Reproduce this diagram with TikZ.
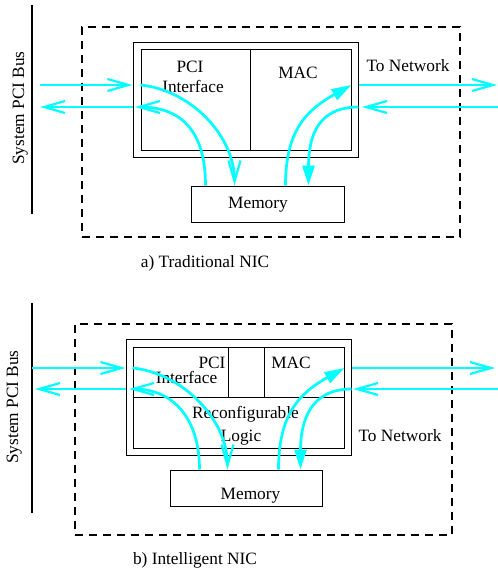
\documentclass[tikz,border=0pt]{standalone}
\usepackage{fontspec}
\setmainfont{Liberation Serif}
\usetikzlibrary{arrows.meta}
\definecolor{flowcyan}{RGB}{0,255,255}

\begin{document}
\begin{tikzpicture}[x=1pt,y=-1pt,
  every node/.style={inner sep=0pt,font=\fontsize{17.3}{20}\selectfont},
  box/.style={draw,line width=1pt,rectangle},
  nic/.style={draw,line width=1.2pt,dash pattern=on 8pt off 6pt},
  bus/.style={line width=2.8pt},
  flow/.style={flowcyan,line width=2.7pt},
  barb/.style={-{Straight Barb[length=21pt,width=12pt,line width=2.2pt]}},
  tri/.style={-{Triangle[length=20pt,width=12pt]}},
  lbl/.style={anchor=base}]
\useasboundingbox (0,0) rectangle (498,571);

% a) traditional card
\coordinate (busAtop) at (32,5);
\coordinate (busAbot) at (32,214);
\draw[bus] (busAtop) -- (busAbot);
\node[lbl,rotate=90] (busAlbl) at (24,108) {System PCI Bus};
\node[nic,minimum width=378pt,minimum height=210pt] (nicA) at (271,132) {};
\node[box,minimum width=225pt,minimum height=115pt] (cardA) at (245.5,99.5) {};
\node[box,minimum width=109pt,minimum height=101pt] (pciA) at (195.5,99.5) {};
\node[box,minimum width=101pt,minimum height=101pt] (macA) at (300.5,99.5) {};
\node[box,minimum width=153pt,minimum height=36pt] (memA) at (267.5,204) {};
\node[lbl] (pciAt) at (190,72) {PCI};
\node[lbl] (ifAt) at (193,92) {Interface};
\node[lbl] (macAt) at (298,78) {MAC};
\node[lbl] (memAt) at (258,208) {Memory};
\node[lbl] (netAt) at (408,71) {To Network};
\node[lbl] (capA) at (205,267) {a) Traditional NIC};

\coordinate (busAin) at (40,85);
\coordinate (busAout) at (40,107);
\coordinate (netAout) at (497,85);
\coordinate (netAin) at (498,107);
\draw[flow,barb] (busAin) -- (busAin -| cardA.west);
\draw[flow,barb] (busAin -| pciA.west) .. controls +(50,5) and +(0,-50) .. ([xshift=44pt]memA.north west);
\draw[flow,barb] ([xshift=15pt]memA.north west) .. controls +(0,-50) and +(50,0) .. (135,107);
\draw[flow,barb] (busAout -| cardA.west) -- (busAout);
\draw[flow,tri] ([xshift=-59pt]memA.north east) .. controls +(0,-55) and +(-45,25) .. (busAin -| macA.east);
\draw[flow,tri] (netAin -| cardA.east) .. controls +(-40,0) and +(0,-50) .. ([xshift=-36pt]memA.north east);
\draw[flow,barb] (busAin -| cardA.east) -- (netAout);
\draw[flow,barb] (netAin) -- (362,107);

% b) intelligent card
\coordinate (busBtop) at (32,303);
\coordinate (busBbot) at (32,513);
\draw[bus] (busBtop) -- (busBbot);
\node[lbl,rotate=90] (busBlbl) at (18,407) {System PCI Bus};
\node[nic,minimum width=377pt,minimum height=211pt] (nicB) at (263.5,429.5) {};
\node[box,minimum width=225pt,minimum height=116pt] (cardB) at (238.5,397) {};
\node[box,minimum width=211pt,minimum height=101pt] (logicB) at (238.5,397.5) {};
\node[box,minimum width=95pt,minimum height=50pt] (pciB) at (180.5,372) {};
\node[box,minimum width=80pt,minimum height=50pt] (macB) at (304,372) {};
\draw[line width=1pt] (pciB.south west) -- (macB.south east);
\node[box,minimum width=152pt,minimum height=36pt] (memB) at (246,488) {};
\node[lbl] (pciBt) at (212,368) {PCI};
\node[lbl] (ifBt) at (186.5,383) {Interface};
\node[lbl] (macBt) at (291,368) {MAC};
\node[lbl] (rcBt) at (245.5,418) {Reconfigurable};
\node[lbl] (lgBt) at (241,441) {Logic};
\node[lbl] (memBt) at (250.5,499) {Memory};
\node[lbl] (netBt) at (400,441) {To Network};
\node[lbl] (capB) at (195,564) {b) Intelligent NIC};

\coordinate (busBin) at (32,368);
\coordinate (busBout) at (35,389);
\coordinate (netBout) at (495,368);
\coordinate (netBin) at (498,389);
\draw[flow,barb] (busBin) -- (busBin -| cardB.west);
\draw[flow,barb] (busBin -| logicB.west) .. controls +(50,5) and +(0,-50) .. ([xshift=58pt]memB.north west);
\draw[flow,barb] ([xshift=30pt]memB.north west) .. controls +(0,-50) and +(45,0) .. (129,389);
\draw[flow,barb] (busBout -| cardB.west) -- (busBout);
\draw[flow,tri] ([xshift=-44pt]memB.north east) .. controls +(0,-55) and +(-45,25) .. (busBin -| macB.east);
\draw[flow,tri] (netBin -| cardB.east) .. controls +(-40,0) and +(0,-50) .. ([xshift=-22pt]memB.north east);
\draw[flow,barb] (busBin -| cardB.east) -- (netBout);
\draw[flow,barb] (netBin) -- (353,389);
\end{tikzpicture}
\end{document}
